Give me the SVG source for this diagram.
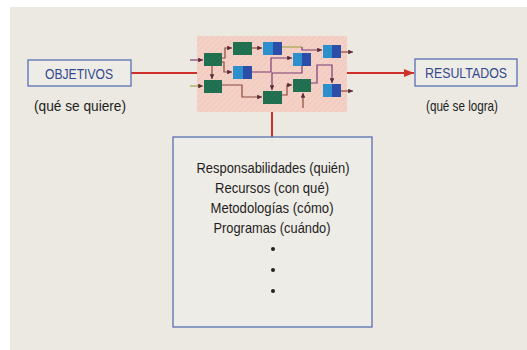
<svg xmlns="http://www.w3.org/2000/svg" width="527" height="350" viewBox="0 0 527 350">
<defs>
<style>
.lbl{font-family:"Liberation Sans",Arial,sans-serif;font-size:15px;fill:#34498f;text-anchor:middle}
.sub{font-family:"Liberation Sans",Arial,sans-serif;font-size:14.5px;fill:#1e1e1e;text-anchor:middle}
.body{font-family:"Liberation Sans",Arial,sans-serif;font-size:14.5px;fill:#1e1e1e;text-anchor:middle}
.box{fill:#eeece6;stroke:#5a6fb3;stroke-width:1.3}
.red{stroke:#d0302a;stroke-width:2;fill:none}
.g{fill:#1e6d4f}
.bl{fill:#2d8fcb}
.br{fill:#2c4ea8}
.c{fill:none;stroke-width:1.2}
.cp{stroke:#7d3c72}
.co{stroke:#a3a64e}
.cb{stroke:#8a4a3c}
</style>
<pattern id="hatch" width="4" height="4" patternUnits="userSpaceOnUse" patternTransform="rotate(45)">
<rect width="4" height="4" fill="#f4d1c6"/>
<line x1="0" y1="0" x2="0" y2="4" stroke="#eebdb0" stroke-width="1"/>
</pattern>
<pattern id="ghatch" width="3" height="3" patternUnits="userSpaceOnUse" patternTransform="rotate(45)">
<line x1="0" y1="0" x2="0" y2="3" stroke="#2b7d5c" stroke-width="1"/>
</pattern>
<marker id="ah" viewBox="0 0 6 6" refX="6" refY="3" markerWidth="4" markerHeight="4" orient="auto">
<path d="M0,0 L6,3 L0,6 z" fill="#5a2a3a"/>
</marker>
<marker id="ra" viewBox="0 0 10 8" refX="10" refY="4" markerWidth="10" markerHeight="8" markerUnits="userSpaceOnUse" orient="auto">
<path d="M0,0 L10,4 L0,8 z" fill="#d0302a"/>
</marker>
</defs>
<rect x="0" y="0" width="527" height="350" fill="#ffffff"/>
<rect x="10" y="7" width="517" height="343" fill="#ebe9e1"/>

<g id="process">
<rect x="197" y="36" width="150" height="76" fill="url(#hatch)"/>
</g>

<g id="connectors">
<line class="red" x1="131" y1="73" x2="197" y2="73"/>
<line class="red" x1="347" y1="73" x2="414" y2="73" marker-end="url(#ra)"/>
<line class="red" x1="272" y1="112" x2="272" y2="137" stroke-width="1.3"/>
<g class="c">
<polyline class="cp" points="190,60 203,60" marker-end="url(#ah)"/>
<polyline class="co" points="190,86 203,86" marker-end="url(#ah)"/>
<polyline class="cb" points="222,58 225,58 225,48 232,48" marker-end="url(#ah)"/>
<polyline class="cb" points="222,62 224,62 224,72 232,72" marker-end="url(#ah)"/>
<polyline class="cb" points="212,66 212,79" marker-end="url(#ah)"/>
<polyline class="cb" points="252,48 262,48" marker-end="url(#ah)"/>
<polyline class="co" points="282,47 302,47"/>
<polyline class="cp" points="302,47 302,50 322,50" marker-end="url(#ah)"/>
<polyline class="cp" points="252,72 271,72 271,58 292,58" marker-end="url(#ah)"/>
<polyline class="cp" points="302,66 302,73 272,73 272,90" marker-end="url(#ah)"/>
<polyline class="cb" points="222,85 242,85 242,97 262,97" marker-end="url(#ah)"/>
<polyline class="cb" points="282,95 287,95 287,85 292,85" marker-end="url(#ah)"/>
<polyline class="cb" points="303,108 303,93" marker-end="url(#ah)"/>
<polyline class="cp" points="311,83 317,83 317,65 332,65 332,83" marker-end="url(#ah)"/>
<polyline class="cb" points="341,52 353,52" marker-end="url(#ah)"/>
<polyline class="cb" points="341,91 353,91" marker-end="url(#ah)"/>
</g>
</g>

<g id="node-g1"><rect class="g" x="204" y="53" width="18" height="13"/><rect x="204" y="53" width="18" height="13" fill="url(#ghatch)"/></g>
<g id="node-g2"><rect class="g" x="233" y="42" width="19" height="13"/><rect x="233" y="42" width="19" height="13" fill="url(#ghatch)"/></g>
<g id="node-b1"><rect class="bl" x="233" y="66" width="10" height="13"/><rect class="br" x="243" y="66" width="9" height="13"/></g>
<g id="node-g3"><rect class="g" x="204" y="80" width="18" height="13"/><rect x="204" y="80" width="18" height="13" fill="url(#ghatch)"/></g>
<g id="node-b2"><rect class="bl" x="263" y="42" width="10" height="13"/><rect class="br" x="273" y="42" width="9" height="13"/></g>
<g id="node-b3"><rect class="bl" x="293" y="53" width="9" height="13"/><rect class="br" x="302" y="53" width="9" height="13"/></g>
<g id="node-g4"><rect class="g" x="263" y="91" width="19" height="13"/><rect x="263" y="91" width="19" height="13" fill="url(#ghatch)"/></g>
<g id="node-g5"><rect class="g" x="293" y="79" width="18" height="13"/><rect x="293" y="79" width="18" height="13" fill="url(#ghatch)"/></g>
<g id="node-b4"><rect class="bl" x="323" y="45" width="9" height="13"/><rect class="br" x="332" y="45" width="9" height="13"/></g>
<g id="node-b5"><rect class="bl" x="323" y="84" width="9" height="13"/><rect class="br" x="332" y="84" width="9" height="13"/></g>

<g id="objetivos">
<rect class="box" x="28" y="60" width="103" height="26"/>
<text class="lbl" x="79" y="79" textLength="68" lengthAdjust="spacingAndGlyphs">OBJETIVOS</text>
<text class="sub" x="80" y="111" textLength="92" lengthAdjust="spacingAndGlyphs">(qué se quiere)</text>
</g>

<g id="resultados">
<rect class="box" x="415" y="59" width="102" height="27"/>
<text class="lbl" x="466" y="78" textLength="82" lengthAdjust="spacingAndGlyphs">RESULTADOS</text>
<text class="sub" x="462" y="111" textLength="72" lengthAdjust="spacingAndGlyphs">(qué se logra)</text>
</g>

<g id="recursos">
<rect class="box" x="173" y="137" width="199" height="190"/>
<text class="body" x="273" y="173" textLength="153" lengthAdjust="spacingAndGlyphs">Responsabilidades (quién)</text>
<text class="body" x="272" y="193" textLength="114" lengthAdjust="spacingAndGlyphs">Recursos (con qué)</text>
<text class="body" x="272" y="213" textLength="123" lengthAdjust="spacingAndGlyphs">Metodologías (cómo)</text>
<text class="body" x="272" y="233" textLength="117" lengthAdjust="spacingAndGlyphs">Programas (cuándo)</text>
<circle cx="273" cy="249" r="2" fill="#222"/>
<circle cx="273" cy="270" r="2" fill="#222"/>
<circle cx="273" cy="291" r="2" fill="#222"/>
</g>
</svg>
